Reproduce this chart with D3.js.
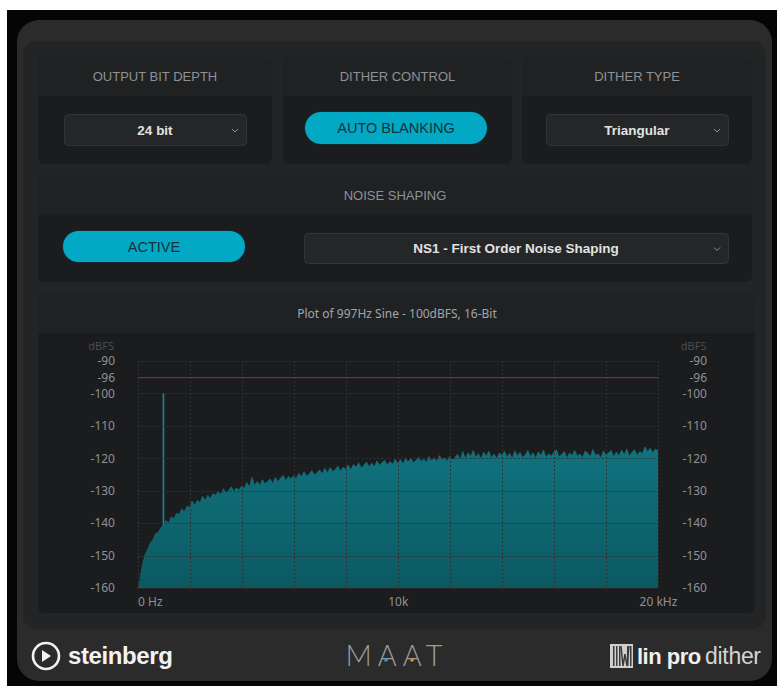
<!DOCTYPE html>
<html><head><meta charset="utf-8">
<script src="https://cdn.jsdelivr.net/npm/d3@7"></script>
<style>html,body{margin:0;padding:0;background:#fff;}svg{display:block;}</style>
</head><body>
<script>
// ---------------- data ----------------
const sectionLabels = ["OUTPUT BIT DEPTH", "DITHER CONTROL", "DITHER TYPE", "NOISE SHAPING"];
const bitDepth = "24 bit";
const ditherControl = "AUTO BLANKING";
const ditherType = "Triangular";
const noiseShapingState = "ACTIVE";
const noiseShapingMode = "NS1 - First Order Noise Shaping";
const plotTitle = "Plot of 997Hz Sine - 100dBFS, 16-Bit";
const yTickValues = [-90, -96, -100, -110, -120, -130, -140, -150, -160];
const yGridValues = [-90, -100, -110, -120, -130, -140, -150, -160];
const xTickValues = [0, 10000, 20000];
const xTickLabels = ["0 Hz", "10k", "20 kHz"];
const xGridValues = [0, 2000, 4000, 6000, 8000, 10000, 12000, 14000, 16000, 18000, 20000];
const binHz = 100;
const toneHz = 997;
const toneDb = -100;
const refLineDb = -96;
// spectrum level (dBFS) per 100 Hz bin, 0 Hz .. 20 kHz
const spectrumDb = [
 -160, -157.0, -152.4, -149.6, -148.0, -146.1, -145.0, -143.2, -142.9, -141.4,
 -140.6, -139.2, -140.1, -138.0, -138.7, -136.9, -137.4, -135.6, -136.5, -134.8,
 -135.1, -133.2, -134.6, -132.9, -133.8, -131.7, -133.0, -131.4, -132.5, -130.9,
 -131.5, -130.2, -131.3, -129.4, -130.7, -130.1, -128.8, -130.2, -129.1, -129.8,
 -128.6, -129.3, -127.5, -128.9, -125.8, -128.4, -127.2, -128.3, -126.6, -127.9,
 -127.2, -126.4, -127.8, -125.9, -127.3, -126.0, -125.3, -126.9, -125.6, -126.4,
 -125.4, -126.3, -124.6, -125.8, -124.1, -125.5, -124.9, -123.8, -125.2, -124.4,
 -123.6, -124.8, -123.1, -124.5, -122.9, -124.1, -123.5, -122.4, -124.0, -122.8,
 -123.4, -122.1, -123.6, -121.9, -122.8, -121.4, -123.0, -122.2, -121.2, -122.6,
 -121.5, -122.7, -120.8, -122.2, -121.3, -120.6, -122.1, -121.0, -121.9, -120.3,
 -121.6, -120.4, -121.8, -120.1, -121.2, -119.9, -121.4, -120.6, -119.6, -121.0,
 -120.2, -121.3, -119.5, -120.8, -119.8, -121.0, -119.2, -120.5, -119.9, -120.9,
 -119.4, -120.6, -119.7, -118.8, -120.4, -117.9, -120.1, -118.3, -119.5, -117.6,
 -119.8, -118.6, -120.2, -118.1, -119.4, -117.8, -119.9, -118.7, -120.1, -118.4,
 -119.1, -117.9, -119.6, -118.5, -120.0, -117.7, -119.3, -118.2, -119.8, -118.9,
 -117.6, -119.5, -118.3, -120.0, -118.0, -119.2, -117.5, -119.7, -118.6, -119.4,
 -118.1, -117.4, -119.6, -118.8, -117.9, -119.9, -118.4, -119.1, -117.6, -119.3,
 -118.7, -119.8, -117.8, -118.4, -119.5, -117.3, -119.2, -118.6, -119.9, -117.7,
 -119.0, -118.3, -117.6, -119.6, -118.1, -119.3, -117.5, -118.9, -117.2, -119.4,
 -118.2, -117.4, -119.1, -117.9, -118.6, -116.5, -118.0, -116.9, -118.4, -117.2,
 -117.8
];

// ---------------- drawing ----------------
const W = 777, H = 686;
const UI = "'Liberation Sans', Arial, sans-serif";
const CH = "'Noto Sans', 'Open Sans', sans-serif";
const svg = d3.select("body").append("svg").attr("width", W).attr("height", H);
const defs = svg.append("defs");

svg.append("rect").attr("width", W).attr("height", H).attr("fill", "#fff");
svg.append("rect").attr("x", 7).attr("y", 10).attr("width", 770).attr("height", 676).attr("fill", "#050505");
svg.append("rect").attr("x", 17).attr("y", 20).attr("width", 755).attr("height", 661).attr("rx", 22).attr("fill", "#2b2b2b");
svg.append("rect").attr("x", 23).attr("y", 41).attr("width", 743).attr("height", 588).attr("rx", 14).attr("fill", "#232426");

function box(x, y, w, h, headH, label) {
  svg.append("rect").attr("x", x).attr("y", y).attr("width", w).attr("height", h).attr("rx", 6).attr("fill", "#1b1c1e");
  svg.append("path").attr("fill", "#202123")
    .attr("d", `M${x},${y + headH} V${y + 6} Q${x},${y} ${x + 6},${y} H${x + w - 6} Q${x + w},${y} ${x + w},${y + 6} V${y + headH} Z`);
  if (label) svg.append("text").attr("x", x + w / 2).attr("y", y + headH / 2 + 4.5).attr("text-anchor", "middle")
    .attr("font-family", UI).attr("font-size", 13).attr("fill", "#8e9195").text(label);
}
function dropdown(x, y, w, h, txt, tx) {
  svg.append("rect").attr("x", x + 0.5).attr("y", y + 0.5).attr("width", w).attr("height", h).attr("rx", 4)
    .attr("fill", "#252628").attr("stroke", "#343538");
  svg.append("text").attr("x", tx).attr("y", y + h / 2 + 5).attr("text-anchor", "middle")
    .attr("font-family", UI).attr("font-weight", "bold").attr("font-size", 13.5).attr("fill", "#e2e2e2").text(txt);
  const cx = x + w - 11, cy = y + h / 2 + 1;
  svg.append("path").attr("d", `M${cx - 3},${cy - 1.5} L${cx},${cy + 1.5} L${cx + 3},${cy - 1.5}`)
    .attr("fill", "none").attr("stroke", "#8d8f92").attr("stroke-width", 1);
}
function pill(x, y, w, h, txt) {
  svg.append("rect").attr("x", x - 1).attr("y", y - 1).attr("width", w + 2).attr("height", h + 2).attr("rx", (h + 2) / 2).attr("fill", "#152a2f");
  svg.append("rect").attr("x", x).attr("y", y).attr("width", w).attr("height", h).attr("rx", h / 2).attr("fill", "#03a8c5");
  svg.append("text").attr("x", x + w / 2).attr("y", y + h / 2 + 5).attr("text-anchor", "middle")
    .attr("font-family", UI).attr("font-size", 14.5).attr("fill", "#12323a").text(txt);
}

box(38, 57, 234, 107, 39, sectionLabels[0]);
box(283, 57, 229, 107, 39, sectionLabels[1]);
box(522, 57, 230, 107, 39, sectionLabels[2]);
box(38, 176, 714, 106, 38, sectionLabels[3]);
box(38, 293, 717, 320, 40, null);

dropdown(64, 114, 182, 31, bitDepth, 155);
pill(305, 112, 182, 32, ditherControl);
dropdown(546, 114, 182, 31, ditherType, 637);
pill(63, 231, 182, 31, noiseShapingState);
dropdown(304, 233, 424, 30, noiseShapingMode, 516);

svg.append("text").attr("x", 397).attr("y", 318).attr("text-anchor", "middle")
  .attr("font-family", CH).attr("font-size", 12).attr("fill", "#a3a5a8").text(plotTitle);

// ---- chart ----
const x = d3.scaleLinear().domain([0, 20000]).range([137.5, 658]);
const y = d3.scaleLinear().domain([-160, -100, -96, -90]).range([588, 393.3, 377.7, 361]);

const grad = defs.append("linearGradient").attr("id", "fillg").attr("gradientUnits", "userSpaceOnUse")
  .attr("x1", 0).attr("x2", 0).attr("y1", y(-115)).attr("y2", y(-160));
grad.append("stop").attr("offset", 0).attr("stop-color", "#107480");
grad.append("stop").attr("offset", 1).attr("stop-color", "#0b5961");

// tone spike (behind the noise area)
svg.append("line").attr("x1", x(toneHz)).attr("x2", x(toneHz)).attr("y1", y(toneDb)).attr("y2", y(-160))
  .attr("stroke", "#1a8894").attr("stroke-width", 1.6);

const pts = spectrumDb.map((v, i) => ({ f: i * binHz, db: v }));
const area = d3.area().x(d => x(d.f)).y0(y(-160)).y1(d => y(d.db));
svg.append("path").datum(pts).attr("d", area).attr("fill", "url(#fillg)");
const line = d3.line().x(d => x(d.f)).y(d => y(d.db));
svg.append("path").datum(pts.slice(1)).attr("d", line).attr("fill", "none").attr("stroke", "#11777f").attr("stroke-width", 0.6);

// grid on top
const grid = svg.append("g").attr("stroke", "#303336").attr("stroke-width", 1).attr("stroke-dasharray", "2,2");
grid.selectAll("line.v").data(xGridValues).join("line")
  .attr("x1", d => Math.round(x(d)) + 0.5).attr("x2", d => Math.round(x(d)) + 0.5).attr("y1", y(-90)).attr("y2", y(-160));
grid.selectAll("line.h").data(yGridValues).join("line")
  .attr("x1", x(0)).attr("x2", x(20000)).attr("y1", d => Math.round(y(d)) + 0.5).attr("y2", d => Math.round(y(d)) + 0.5);

// reference line
svg.append("rect").attr("x", x(0)).attr("width", x(20000) - x(0))
  .attr("y", Math.floor(y(refLineDb))).attr("height", 1.2)
  .attr("fill", "#9c1b54");

// axes
function styleAxis(g) {
  g.select(".domain").remove();
  g.selectAll(".tick line").remove();
  g.selectAll("text").attr("font-family", CH).attr("font-size", 12).attr("fill", "#8f9194");
}
svg.append("g").attr("transform", "translate(115,0)")
  .call(d3.axisLeft(y).tickValues(yTickValues).tickFormat(d => d).tickSize(0).tickPadding(0)).call(styleAxis);
svg.append("g").attr("transform", "translate(707,0)")
  .call(d3.axisLeft(y).tickValues(yTickValues).tickFormat(d => d).tickSize(0).tickPadding(0)).call(styleAxis);
const xa = svg.append("g").attr("transform", "translate(0,597)")
  .call(d3.axisBottom(x).tickValues(xTickValues).tickFormat((d, i) => xTickLabels[i]).tickSize(0).tickPadding(0)).call(styleAxis);
xa.selectAll("text").attr("text-anchor", (d, i) => i === 0 ? "start" : "middle");
["114", "706.5"].forEach(px => svg.append("text").attr("x", +px).attr("y", 350).attr("text-anchor", "end")
  .attr("font-family", CH).attr("font-size", 11).attr("fill", "#4b4d50").text("dBFS"));

// ---- footer ----
const fy = 656;
svg.append("circle").attr("cx", 46).attr("cy", fy).attr("r", 13).attr("fill", "none").attr("stroke", "#f2f2f2").attr("stroke-width", 2.6);
svg.append("path").attr("d", `M42,${fy - 6} L51,${fy} L42,${fy + 6} Z`).attr("fill", "#f2f2f2");
svg.append("text").attr("x", 68).attr("y", fy + 8).attr("font-family", UI).attr("font-weight", "bold")
  .attr("font-size", 24).attr("letter-spacing", -0.4).attr("fill", "#f2f2f2").text("steinberg");

svg.append("text").attr("x", 397).attr("y", fy + 10).attr("text-anchor", "middle").attr("font-family", "Lato, sans-serif")
  .attr("font-weight", 300).attr("font-size", 29).attr("letter-spacing", 6).attr("fill", "#9c9c9c").text("MAAT");
svg.append("circle").attr("cx", 386).attr("cy", fy + 4).attr("r", 1.8).attr("fill", "#2d9be0");
svg.append("circle").attr("cx", 412).attr("cy", fy + 4).attr("r", 1.8).attr("fill", "#f08a1c");

svg.append("rect").attr("x", 610).attr("y", 644).attr("width", 23).attr("height", 24).attr("fill", "#cfcfcf");
[613, 616, 619, 627, 630].forEach(px => svg.append("rect").attr("x", px).attr("y", 646).attr("width", 1.5).attr("height", 20).attr("fill", "#3a3a3a"));
svg.append("path").attr("d", "M621,646 L623,666 L625,654 L627,666 L629,646").attr("fill", "none").attr("stroke", "#3a3a3a").attr("stroke-width", 1.5);
svg.append("text").attr("x", 637).attr("y", fy + 8).attr("font-family", UI).attr("font-weight", "bold")
  .attr("font-size", 22).attr("letter-spacing", -0.5).attr("fill", "#f0f0f0").text("lin pro");
svg.append("text").attr("x", 705).attr("y", fy + 8).attr("font-family", UI)
  .attr("font-size", 23).attr("letter-spacing", -0.3).attr("fill", "#d4d4d4").text("dither");
</script>
</body></html>
